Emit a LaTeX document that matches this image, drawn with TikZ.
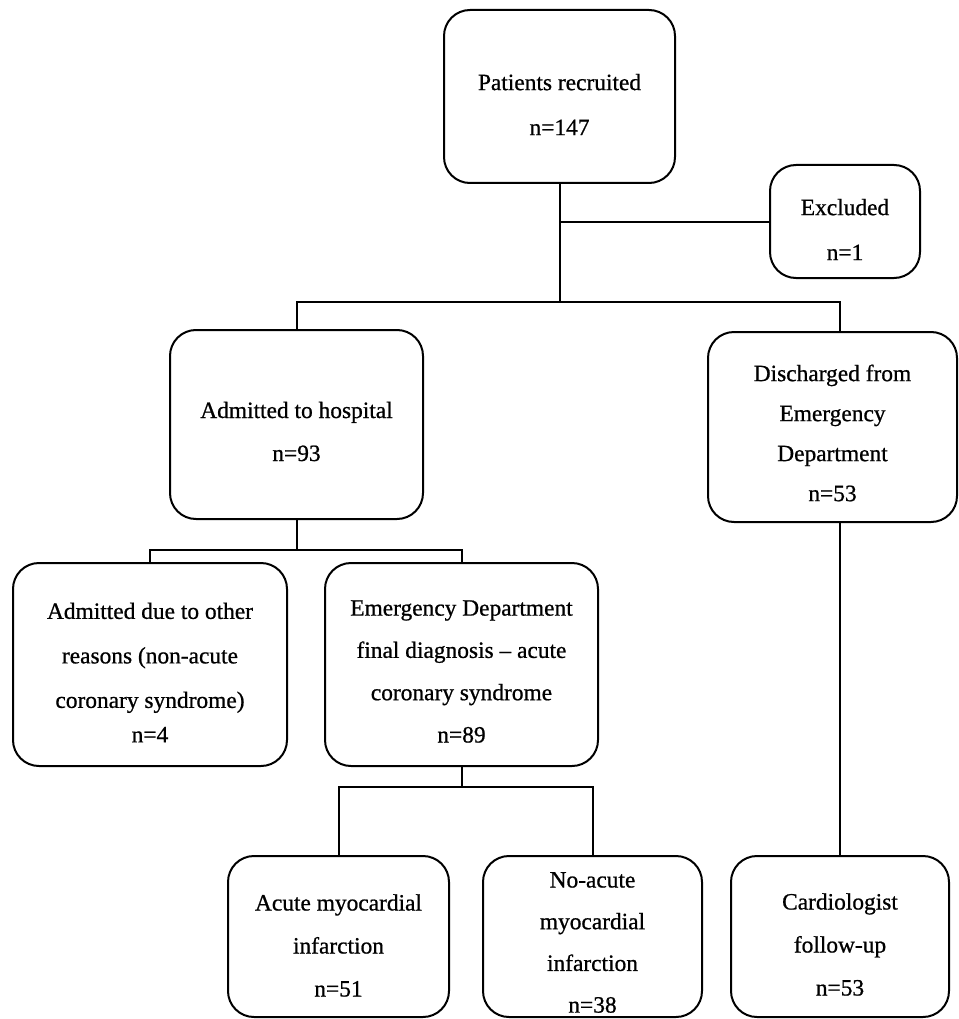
\documentclass[tikz,border=0pt]{standalone}
\usepackage{fontspec}
\setmainfont{Liberation Serif}[FakeBold=0.8]
\begin{document}
\begin{tikzpicture}[x=1pt,y=-1pt,
  box/.style={draw, line width=2pt, rounded corners=26pt, inner sep=0pt},
  txt/.style={align=center, inner sep=0pt, font=\fontsize{23.4}{43}\selectfont},
  conn/.style={line width=2pt}]
\useasboundingbox (0,0) rectangle (958,1019);
% boxes
\node[box, minimum width=231pt, minimum height=173pt] (pat) at (559.5,96.5) {};
\node[box, minimum width=150pt, minimum height=113pt] (exc) at (845,221.5) {};
\node[box, minimum width=253pt, minimum height=189pt] (adm) at (296.5,424.5) {};
\node[box, minimum width=249pt, minimum height=190pt] (dis) at (832.5,427) {};
\node[box, minimum width=274pt, minimum height=203pt] (oth) at (150,664.5) {};
\node[box, minimum width=273pt, minimum height=203pt] (acs) at (461.5,664.5) {};
\node[box, minimum width=221pt, minimum height=161pt] (ami) at (338.5,936.5) {};
\node[box, minimum width=219pt, minimum height=161pt] (nami) at (592.5,936.5) {};
\node[box, minimum width=218pt, minimum height=161pt] (card) at (840,936.5) {};
% texts
\node[txt, font=\fontsize{23.4}{45}\selectfont] (patT) at ([yshift=-8pt]pat.center) {Patients recruited\\n=147};
\node[txt, font=\fontsize{23.4}{45}\selectfont] (excT) at ([yshift=-8pt]exc.center) {Excluded\\n=1};
\node[txt] (admT) at ([yshift=-7pt]adm.center) {Admitted to hospital\\n=93};
\node[txt, font=\fontsize{23.4}{40}\selectfont] (disT) at ([yshift=-6pt]dis.center) {Discharged from\\Emergency\\Department\\n=53};
\node[txt, font=\fontsize{23.4}{44.5}\selectfont] (othT) at ([yshift=-8pt]oth.center) {Admitted due to other\\reasons (non-acute\\coronary syndrome)\\[-10pt]n=4};
\node[txt, font=\fontsize{23.4}{42.3}\selectfont] (acsT) at ([yshift=-7pt]acs.center) {Emergency Department\\final diagnosis -- acute\\coronary syndrome\\n=89};
\node[txt] (amiT) at ([yshift=-9pt]ami.center) {Acute myocardial\\infarction\\n=51};
\node[txt, font=\fontsize{23.4}{41.7}\selectfont] (namiT) at ([yshift=-6pt]nami.center) {No-acute\\myocardial\\infarction\\n=38};
\node[txt] (cardT) at ([yshift=-8pt]card.center) {Cardiologist\\follow-up\\n=53};
% junctions
\coordinate (b1) at (559.5,302);
\coordinate (b2) at (296.5,550);
\coordinate (b3) at (461.5,787);
% connectors
\draw[conn] (pat.south) -- (b1);
\draw[conn] (pat.south |- exc.west) -- (exc.west);
\draw[conn] (adm.north) |- (b1) -| (dis.north -| card.north);
\draw[conn] (adm.south) -- (b2);
\draw[conn] (oth.north) |- (b2) -| (acs.north);
\draw[conn] (acs.south) -- (b3);
\draw[conn] (ami.north) |- (b3) -| (nami.north);
\draw[conn] (dis.south -| card.north) -- (card.north);
\end{tikzpicture}
\end{document}
